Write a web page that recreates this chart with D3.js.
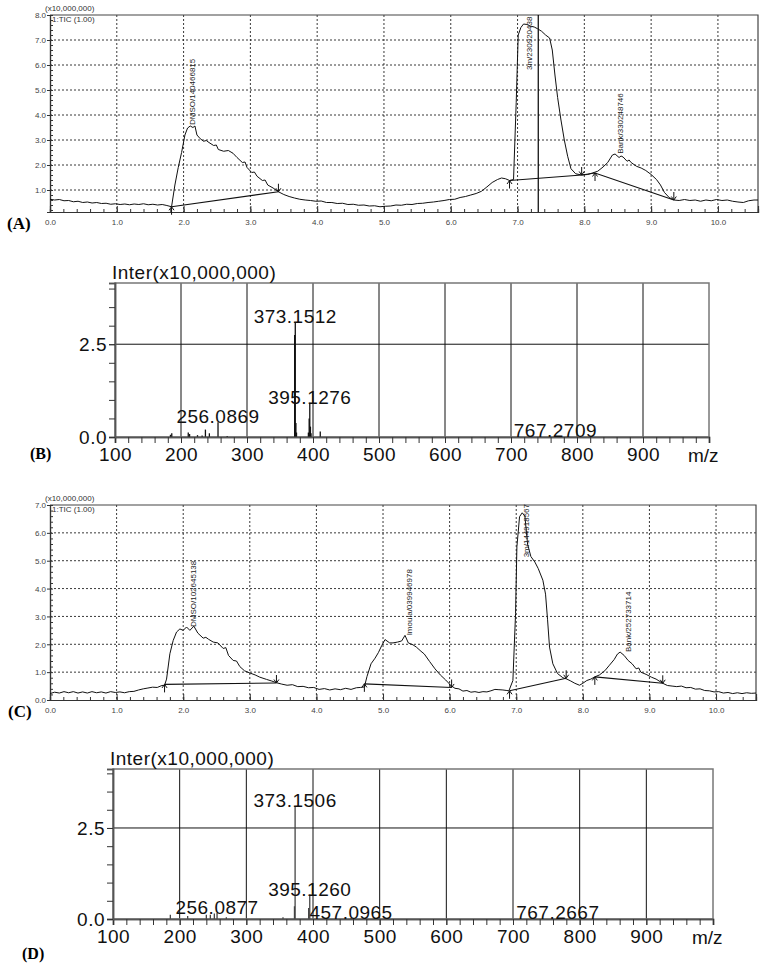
<!DOCTYPE html>
<html>
<head>
<meta charset="utf-8">
<script src="https://cdn.jsdelivr.net/npm/d3@7"></script>
<style>
body { margin: 0; background: #fff; }
</style>
</head>
<body>
<svg id="fig" width="779" height="968"></svg>
<script>
// ---- data ----
// (A) TIC, retention time (min) vs intensity (x10,000,000)
const ticA = [[0,0.63],[0.07,0.6],[0.14,0.62],[0.21,0.57],[0.28,0.58],[0.35,0.53],[0.42,0.55],[0.49,0.5],[0.56,0.52],[0.63,0.48],[0.7,0.5],[0.77,0.46],[0.84,0.47],[0.91,0.43],[0.98,0.45],[1.05,0.42],[1.12,0.44],[1.19,0.41],[1.26,0.44],[1.33,0.42],[1.4,0.45],[1.47,0.41],[1.54,0.43],[1.61,0.4],[1.68,0.42],[1.75,0.38],[1.82,0.33],
  [1.87,1.2],[1.92,1.9],[1.97,2.5],[2.02,3.2],[2.06,3.48],[2.1,3.56],[2.14,3.5],[2.17,3.56],[2.2,3.2],[2.25,3.05],[2.3,2.95],[2.34,2.98],[2.38,2.9],[2.45,2.78],[2.49,2.8],[2.52,2.62],[2.6,2.55],[2.67,2.58],[2.74,2.47],[2.8,2.3],[2.88,2.1],[2.92,2.12],[2.95,1.9],[3.02,1.7],[3.06,1.72],[3.1,1.55],[3.18,1.38],[3.22,1.4],[3.26,1.2],[3.34,1.08],[3.42,0.93],
  [3.5,0.82],[3.58,0.74],[3.66,0.68],[3.74,0.63],[3.82,0.6],[3.9,0.58],[3.98,0.55],[4.06,0.56],[4.14,0.5],[4.22,0.5],[4.3,0.46],[4.38,0.47],[4.46,0.42],[4.54,0.43],[4.62,0.39],[4.7,0.4],[4.78,0.36],[4.86,0.37],[4.94,0.33],[5.02,0.35],[5.1,0.36],[5.18,0.4],[5.26,0.39],[5.34,0.43],[5.42,0.42],[5.5,0.46],[5.58,0.47],[5.66,0.5],[5.74,0.52],[5.82,0.55],[5.9,0.58],[5.98,0.62],[6.06,0.63],[6.14,0.7],[6.22,0.74],[6.3,0.8],[6.38,0.86],[6.46,0.95],[6.54,1.12],[6.62,1.3],[6.7,1.42],[6.76,1.48],[6.82,1.45],[6.88,1.38],[6.94,1.42],
  [6.98,4.5],[7.01,7.2],[7.05,7.5],[7.09,7.64],[7.14,7.62],[7.19,7.56],[7.25,7.52],[7.3,7.45],[7.36,7.35],[7.42,7.2],[7.48,7.08],[7.52,6.6],[7.56,5.6],[7.6,4.7],[7.65,3.8],[7.7,3.0],[7.75,2.35],[7.8,1.85],[7.87,1.65],[7.96,1.6],[8.05,1.62],[8.12,1.68],[8.2,1.75],[8.28,1.92],[8.35,2.1],[8.42,2.4],[8.46,2.44],[8.52,2.3],[8.55,2.36],[8.58,2.32],[8.64,2.15],[8.67,2.2],[8.7,2.1],[8.78,1.95],[8.85,1.88],[8.92,1.78],[9.0,1.62],[9.08,1.42],[9.14,1.2],[9.2,0.9],[9.27,0.7],[9.34,0.6],
  [9.42,0.58],[9.5,0.62],[9.58,0.58],[9.66,0.6],[9.74,0.55],[9.82,0.6],[9.9,0.57],[9.98,0.62],[10.06,0.58],[10.14,0.6],[10.22,0.55],[10.3,0.52],[10.38,0.5],[10.46,0.57],[10.54,0.6],[10.6,0.6]];
const baselinesA = [[[1.82,0.33],[3.42,0.93]], [[6.88,1.38],[7.96,1.6],[8.16,1.68],[9.34,0.6]]];
const peakStartA = [[1.82,0.33],[6.88,1.38],[8.16,1.68]];
const peakEndA = [[3.42,0.93],[7.96,1.6],[9.34,0.6]];
const peakNamesA = ["DMSO/140466815", "3m/230920438", "Bank/330248746"];
const peakNamePosA = [[2.12,3.6],[7.17,5.8],[8.53,2.45]];
const cursorA = 7.31;

// (C) TIC
const ticC = [[0,0.23],[0.07,0.28],[0.14,0.25],[0.21,0.3],[0.28,0.26],[0.35,0.3],[0.42,0.25],[0.49,0.29],[0.56,0.25],[0.63,0.3],[0.7,0.26],[0.77,0.29],[0.84,0.25],[0.91,0.3],[0.98,0.27],[1.05,0.29],[1.12,0.26],[1.19,0.3],[1.26,0.31],[1.33,0.36],[1.4,0.4],[1.47,0.43],[1.54,0.46],[1.61,0.45],[1.68,0.52],[1.72,0.53],
  [1.75,0.75],[1.8,1.66],[1.85,2.14],[1.9,2.44],[1.95,2.55],[2.0,2.5],[2.05,2.62],[2.1,2.5],[2.16,2.65],[2.22,2.4],[2.3,2.22],[2.34,2.25],[2.38,2.18],[2.45,2.08],[2.52,2.05],[2.6,1.85],[2.64,1.88],[2.68,1.6],[2.75,1.42],[2.8,1.4],[2.85,1.2],[2.92,1.05],[3.0,0.97],[3.08,0.9],[3.15,0.82],[3.25,0.74],[3.33,0.68],[3.4,0.62],
  [3.48,0.57],[3.56,0.53],[3.64,0.55],[3.72,0.48],[3.8,0.49],[3.88,0.44],[3.96,0.45],[4.04,0.38],[4.12,0.41],[4.2,0.36],[4.28,0.4],[4.36,0.37],[4.44,0.42],[4.52,0.38],[4.6,0.44],[4.66,0.45],[4.72,0.47],
  [4.76,0.85],[4.82,1.3],[4.88,1.5],[4.93,1.7],[4.98,1.95],[5.03,2.17],[5.1,2.05],[5.15,2.05],[5.22,2.08],[5.28,2.12],[5.33,2.32],[5.38,2.05],[5.45,1.98],[5.5,1.9],[5.57,1.75],[5.62,1.65],[5.7,1.38],[5.78,1.12],[5.86,0.9],[5.94,0.72],[6.02,0.52],
  [6.08,0.42],[6.14,0.4],[6.2,0.32],[6.26,0.34],[6.32,0.28],[6.38,0.3],[6.44,0.27],[6.5,0.3],[6.56,0.29],[6.62,0.33],[6.68,0.38],[6.74,0.37],[6.8,0.36],[6.86,0.34],[6.89,0.33],
  [6.95,0.7],[6.99,3.1],[7.01,5.5],[7.05,6.58],[7.09,6.72],[7.13,6.6],[7.17,5.6],[7.22,5.15],[7.28,4.95],[7.33,4.72],[7.4,4.3],[7.44,3.8],[7.47,2.9],[7.5,1.9],[7.55,1.3],[7.62,0.95],[7.7,0.8],[7.76,0.75],[7.82,0.68],[7.88,0.6],[7.95,0.53],[8.0,0.6],[8.06,0.7],[8.12,0.75],[8.18,0.83],[8.25,0.9],[8.33,1.05],[8.4,1.25],[8.47,1.45],[8.52,1.65],[8.56,1.72],[8.62,1.6],[8.68,1.42],[8.74,1.3],[8.8,1.12],[8.84,1.15],[8.87,1.0],[8.95,0.92],[9.03,0.82],[9.1,0.75],[9.2,0.6],
  [9.27,0.52],[9.34,0.5],[9.41,0.48],[9.48,0.5],[9.55,0.44],[9.62,0.45],[9.69,0.39],[9.76,0.4],[9.83,0.34],[9.9,0.33],[9.97,0.29],[10.04,0.3],[10.11,0.25],[10.18,0.27],[10.25,0.23],[10.32,0.26],[10.39,0.23],[10.46,0.26],[10.53,0.24],[10.6,0.25]];
const baselinesC = [[[1.72,0.56],[3.4,0.61]], [[4.72,0.58],[6.03,0.45]], [[6.9,0.33],[7.75,0.78]], [[8.18,0.83],[9.2,0.6]]];
const peakStartC = [[1.72,0.56],[4.72,0.58],[6.9,0.33],[8.18,0.83]];
const peakEndC = [[3.4,0.61],[6.03,0.45],[7.75,0.78],[9.2,0.6]];
const peakNamesC = ["DMSO/102645138", "Imoula/039946978", "3m/144918567", "Bank/252733714"];
const peakNamePosC = [[2.15,2.62],[5.39,2.32],[7.15,5.12],[8.68,1.72]];

// (B) mass spectrum, m/z vs intensity (x10,000,000)
const mzB = [184,186,211,213,225,232,237,243,256.09,270,372.2,373.15,374.1,375,393,394.2,395.13,396.1,397,411,767.27];
const intB = [0.06,0.1,0.12,0.08,0.05,0.04,0.2,0.1,0.4,0.03,2.75,3.1,0.38,0.12,0.12,0.5,0.92,0.28,0.1,0.15,0.02];
const labelMzB = [256.09, 373.15, 395.13, 767.27];
const labelTextB = ["256.0869", "373.1512", "395.1276", "767.2709"];

// (D) mass spectrum
const mzD = [186,212,240,246,252,256.09,270,355,372.2,373.15,393.5,395.13,457.1,767.27];
const intD = [0.12,0.08,0.12,0.12,0.15,0.17,0.05,0.05,0.35,3.1,0.3,0.67,0.03,0.02];
const labelMzD = [256.09, 373.15, 395.13, 457.1, 767.27];
const labelTextD = ["256.0877", "373.1506", "395.1260", "457.0965", "767.2667"];

const svg = d3.select('#fig');
const sans = "'Liberation Sans', Arial, sans-serif";

function arrow(g, x, y, pts, up) {
  g.selectAll(null).data(pts).join('path')
    .attr('d', d => {
      const px = x(d[0]), py = y(d[1]), s = up ? 1 : -1;
      return `M${px},${py + 8 * s}V${py}M${px - 2.5},${py + 3.5 * s}L${px},${py}L${px + 2.5},${py + 3.5 * s}`;
    })
    .attr('fill', 'none').attr('stroke', '#111').attr('stroke-width', 1);
}

function drawTIC(c) {
  const g = svg.append('g');
  const x = d3.scaleLinear().domain([0, 10.6]).range([c.left, c.right]);
  const y = d3.scaleLinear().domain([c.yMin, c.yMax]).range([c.bottom, c.top]);

  // dotted grid
  g.append('g').selectAll('line').data(d3.range(1, 11)).join('line')
    .attr('x1', d => x(d)).attr('x2', d => x(d)).attr('y1', c.top).attr('y2', c.bottom)
    .attr('stroke', '#222').attr('stroke-width', 0.9).attr('stroke-dasharray', '2,2');
  g.append('g').selectAll('line').data(d3.range(1, c.yMax)).join('line')
    .attr('x1', c.left).attr('x2', c.right).attr('y1', d => y(d)).attr('y2', d => y(d))
    .attr('stroke', '#222').attr('stroke-width', 0.9).attr('stroke-dasharray', '2,2');

  // frame top and right
  g.append('path').attr('d', `M${c.left},${c.top}H${c.right}V${c.bottom}`)
    .attr('fill', 'none').attr('stroke', '#444').attr('stroke-width', 1.2);

  // axes
  g.append('g').attr('transform', `translate(0,${c.bottom})`)
    .call(d3.axisBottom(x).tickValues(d3.range(0, 11)).tickFormat(d3.format('.1f')).tickSize(-6).tickPadding(7));
  g.append('g').attr('transform', `translate(0,${c.bottom})`)
    .call(d3.axisBottom(x).tickValues(d3.range(0, 10.61, 0.2)).tickFormat('').tickSize(-3));
  const ya = g.append('g').attr('transform', `translate(${c.left},0)`)
    .call(d3.axisLeft(y).tickValues(d3.range(c.yLab0, c.yMax + 0.01)).tickFormat(d3.format('.1f')).tickSize(3).tickPadding(1));
  g.append('g').attr('transform', `translate(${c.left},0)`)
    .call(d3.axisLeft(y).tickValues(d3.range(Math.ceil(c.yMin * 5) / 5, c.yMax + 0.01, 0.2)).tickFormat('').tickSize(-3));
  g.selectAll('.domain').attr('stroke', '#333').attr('stroke-width', 1.2);
  g.selectAll('.tick line').attr('stroke', '#333');
  g.selectAll('.tick text').attr('font-family', sans).attr('font-size', 8).attr('fill', '#444');
  ya.selectAll('.tick text').attr('dy', '0.35em');

  g.append('text').attr('x', c.left - 5).attr('y', c.top - 4).text('(x10,000,000)')
    .attr('font-family', sans).attr('font-size', 8).attr('fill', '#333');
  g.append('text').attr('x', c.left + 2).attr('y', c.top + 7).text('1:TIC (1.00)')
    .attr('font-family', sans).attr('font-size', 8).attr('fill', '#333');

  // cursor line
  if (c.cursor != null) {
    g.append('line').attr('x1', x(c.cursor)).attr('x2', x(c.cursor)).attr('y1', c.top).attr('y2', c.bottom)
      .attr('stroke', '#000').attr('stroke-width', 1.2);
  }

  // chromatogram
  const line = d3.line().x(d => x(d[0])).y(d => y(d[1]));
  g.append('path').datum(c.data).attr('d', line)
    .attr('fill', 'none').attr('stroke', '#111').attr('stroke-width', 1);
  g.append('g').selectAll('path').data(c.baselines).join('path').attr('d', line)
    .attr('fill', 'none').attr('stroke', '#111').attr('stroke-width', 1.1);
  arrow(g, x, y, c.starts, true);
  arrow(g, x, y, c.ends, false);

  // rotated peak names
  g.append('g').selectAll('text').data(c.names).join('text')
    .attr('transform', (d, i) => `translate(${x(c.namePos[i][0]) + 3},${y(c.namePos[i][1])}) rotate(-90)`)
    .text(d => d).attr('font-family', sans).attr('font-size', 8).attr('fill', '#222');

  svg.append('text').attr('x', c.letterX).attr('y', c.letterY).text(c.letter)
    .attr('font-family', "'Liberation Serif', 'Times New Roman', serif").attr('font-weight', 'bold').attr('font-size', 17);
}

function drawMS(c) {
  const g = svg.append('g');
  const x = d3.scaleLinear().domain([100, 1000]).range([c.left, c.right]);
  const y = d3.scaleLinear().domain([0, c.yMax]).range([c.bottom, c.top]);

  // grid
  g.append('g').selectAll('line').data(d3.range(200, 1000, 100)).join('line')
    .attr('x1', d => x(d)).attr('x2', d => x(d)).attr('y1', c.top).attr('y2', c.bottom)
    .attr('stroke', '#111').attr('stroke-width', 1);
  g.append('line').attr('x1', c.left).attr('x2', c.right).attr('y1', y(2.5)).attr('y2', y(2.5))
    .attr('stroke', '#111').attr('stroke-width', 1);
  g.append('rect').attr('x', c.left).attr('y', c.top).attr('width', c.right - c.left).attr('height', c.bottom - c.top)
    .attr('fill', 'none').attr('stroke', '#777').attr('stroke-width', 1.5);

  // peaks
  g.append('g').selectAll('line').data(c.mz).join('line')
    .attr('x1', d => x(d)).attr('x2', d => x(d)).attr('y1', y(0)).attr('y2', (d, i) => y(c.int[i]))
    .attr('stroke', c.peakColor).attr('stroke-width', 1.3);

  // axes
  g.append('g').attr('transform', `translate(0,${c.bottom})`)
    .call(d3.axisBottom(x).tickValues(d3.range(100, 1000, 100)).tickSize(6).tickPadding(5));
  g.append('g').attr('transform', `translate(0,${c.bottom})`)
    .call(d3.axisBottom(x).tickValues(d3.range(100, 1000.1, 20)).tickFormat('').tickSize(6));
  g.append('g').attr('transform', `translate(${c.left},0)`)
    .call(d3.axisLeft(y).tickValues([0, 2.5]).tickFormat(d3.format('.1f')).tickSize(6).tickPadding(2));
  g.append('g').attr('transform', `translate(${c.left},0)`)
    .call(d3.axisLeft(y).tickValues(d3.range(0, c.yMax, 0.5)).tickFormat('').tickSize(6));
  g.selectAll('.domain').attr('stroke', '#555').attr('stroke-width', 1.5);
  g.selectAll('.tick line').attr('stroke', '#333');
  g.selectAll('.tick text').attr('font-family', sans).attr('font-size', 19).attr('fill', '#111')
    .attr('letter-spacing', 0.5);

  g.append('text').attr('x', c.mzX).attr('y', c.bottom + 25).text('m/z')
    .attr('font-family', sans).attr('font-size', 19).attr('fill', '#111');
  g.append('text').attr('x', c.left - 3).attr('y', c.top - 4).text('Inter(x10,000,000)')
    .attr('font-family', sans).attr('font-size', 19).attr('fill', '#111').attr('letter-spacing', 0.5);

  // peak labels
  g.append('g').selectAll('text').data(c.labelMz).join('text')
    .attr('x', d => x(d)).attr('y', d => y(c.int[c.mz.indexOf(d)]) + 1)
    .attr('text-anchor', 'middle').text((d, i) => c.labelText[i])
    .attr('font-family', sans).attr('font-size', 19).attr('fill', '#111').attr('letter-spacing', 0.5);

  svg.append('text').attr('x', c.letterX).attr('y', c.letterY).text(c.letter)
    .attr('font-family', "'Liberation Serif', 'Times New Roman', serif").attr('font-weight', 'bold').attr('font-size', 16);
}

drawTIC({ left: 50, right: 758, top: 15, bottom: 212, yMin: 0.12, yMax: 8, yLab0: 1,
  data: ticA, baselines: baselinesA, starts: peakStartA, ends: peakEndA,
  names: peakNamesA, namePos: peakNamePosA, cursor: cursorA,
  letter: '(A)', letterX: 7, letterY: 229 });

drawMS({ left: 115, right: 709, top: 283, bottom: 437, yMax: 4.15, peakColor: '#111',
  mz: mzB, int: intB, labelMz: labelMzB, labelText: labelTextB, mzX: 688,
  letter: '(B)', letterX: 30, letterY: 459 });

drawTIC({ left: 50, right: 756, top: 505, bottom: 700, yMin: 0, yMax: 7, yLab0: 0,
  data: ticC, baselines: baselinesC, starts: peakStartC, ends: peakEndC,
  names: peakNamesC, namePos: peakNamePosC, cursor: null,
  letter: '(C)', letterX: 8, letterY: 717 });

drawMS({ left: 113, right: 713, top: 769, bottom: 919, yMax: 4.12, peakColor: '#444',
  mz: mzD, int: intD, labelMz: labelMzD, labelText: labelTextD, mzX: 692,
  letter: '(D)', letterX: 22, letterY: 959 });
</script>
</body>
</html>
